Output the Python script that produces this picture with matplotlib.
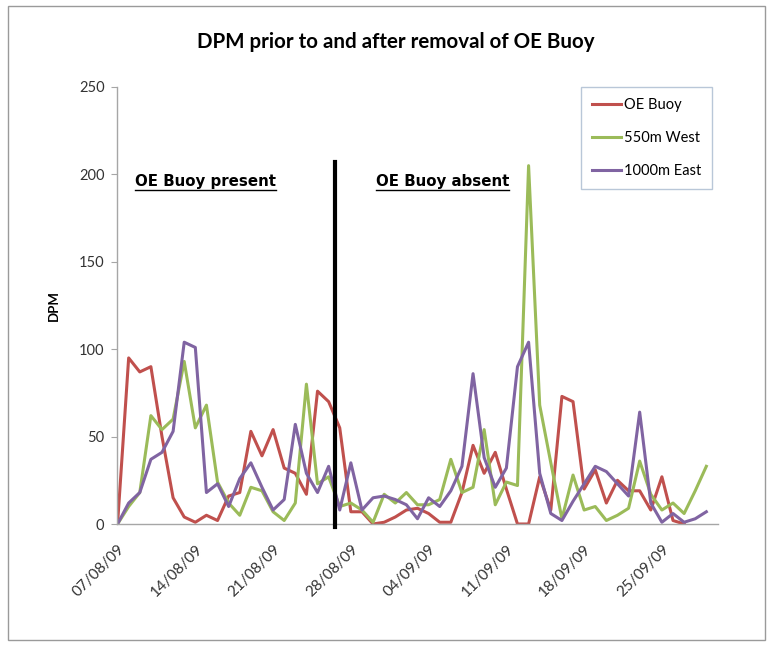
import matplotlib
matplotlib.use("Agg")
import matplotlib.pyplot as plt
import matplotlib.dates as mdates
from matplotlib.patches import Rectangle
from matplotlib.lines import Line2D
import numpy as np
import pandas as pd

# daily dates 07/08/09 .. 29/09/09
dates = pd.date_range("2009-08-07", periods=54, freq="D")

oe_buoy = [0, 95, 87, 90, 50, 15, 4, 1, 5, 2, 16, 18, 53, 39, 54, 32, 29, 17, 76, 70,
           55, 7, 7, 0, 1, 4, 8, 9, 6, 1, 1, 18, 45, 29, 41, 20, 0, 0, 27, 8,
           73, 70, 20, 31, 12, 25, 19, 19, 8, 27, 2, 0, np.nan, np.nan]
west_550m = [0, 10, 18, 62, 54, 60, 93, 55, 68, 24, 12, 5, 21, 19, 7, 2, 12, 80, 23, 27,
             10, 12, 8, 1, 17, 12, 18, 11, 11, 14, 37, 18, 21, 54, 11, 24, 22, 205, 68, 35,
             3, 28, 8, 10, 2, 5, 9, 36, 17, 8, 12, 6, 19, 33]
east_1000m = [0, 12, 18, 37, 41, 53, 104, 101, 18, 23, 10, 26, 35, 21, 8, 14, 57, 29, 18, 33,
              8, 35, 8, 15, 16, 14, 11, 3, 15, 10, 19, 33, 86, 38, 21, 32, 90, 104, 29, 6,
              2, 13, 23, 33, 30, 23, 16, 64, 12, 1, 6, 1, 3, 7]

series_names = ["OE Buoy", "550m West", "1000m East"]
colors = ["#C0504D", "#9BBB59", "#8064A2"]
removal_day = 19.55  # divider drawn between 26/08 and 27/08
divider_top = 207

plt.rcParams['font.family'] = ['Lato', 'DejaVu Sans']

W, H = 773, 646
fig = plt.figure(figsize=(W / 100, H / 100), dpi=100)
ax = fig.add_axes([117 / W, 1 - 524 / H, (718 - 117) / W, (524 - 87) / H])

x = mdates.date2num(dates)
for vals, name, c in zip([oe_buoy, west_550m, east_1000m], series_names, colors):
    ax.plot(x, vals, color=c, lw=2.2, label=name, solid_joinstyle='round')

xd = x[0] + removal_day
ax.plot([xd, xd], [-2, divider_top], color='black', lw=3, clip_on=False, zorder=5)

ax.set_xlim(x[0] - 0.05, x[0] + 54.05)
ax.set_ylim(0, 250)
ax.set_yticks(np.arange(0, 251, 50))
ax.set_xticks(x[::7])
ax.set_xticklabels([d.strftime("%d/%m/%y") for d in dates[::7]], rotation=45,
                   ha='right', rotation_mode='anchor')

for s in ['top', 'right']:
    ax.spines[s].set_visible(False)
for s in ['left', 'bottom']:
    ax.spines[s].set_color('#A6A6A6')
    ax.spines[s].set_linewidth(1)
ax.tick_params(axis='y', length=4, color='#A6A6A6', labelsize=10.5, labelcolor='#333333', pad=5)
ax.tick_params(axis='x', length=0, labelsize=11, labelcolor='#333333', pad=13)

ax.set_ylabel("DPM", fontsize=9.5, fontweight='bold', labelpad=14)
fig.text(396 / W, 1 - 42 / H, "DPM prior to and after removal of OE Buoy",
         ha='center', va='center', fontsize=14.8, fontweight='bold')

leg = ax.legend(loc='upper right', bbox_to_anchor=(0.99, 1.0), borderaxespad=0,
                fancybox=False, edgecolor='#B9C7D8', fontsize=10.5, handlelength=2.0,
                labelspacing=1.3, borderpad=0.75, handletextpad=0.2, framealpha=1)
leg.get_frame().set_linewidth(1)

# annotations with underline
labels = []
for txt, xf in [("OE Buoy present", 0.03), ("OE Buoy absent", 0.431)]:
    t = ax.text(xf, 0.783, txt, transform=ax.transAxes, fontsize=10.8,
                fontweight='bold', ha='left', va='center', family='DejaVu Sans')
    labels.append(t)

fig.canvas.draw()
r = fig.canvas.get_renderer()
for t in labels:
    bb = t.get_window_extent(renderer=r)
    yline = bb.y0 - 1
    fig.add_artist(Line2D([bb.x0 / W, bb.x1 / W], [yline / H, yline / H],
                          color='black', lw=1, transform=fig.transFigure))

# chart frame
fig.add_artist(Rectangle((8 / W, 6 / H), (765 - 8) / W, (640 - 6) / H,
                         transform=fig.transFigure, fill=False, edgecolor='#9A9A9A', lw=1))

fig.savefig("out.png", dpi=100)
